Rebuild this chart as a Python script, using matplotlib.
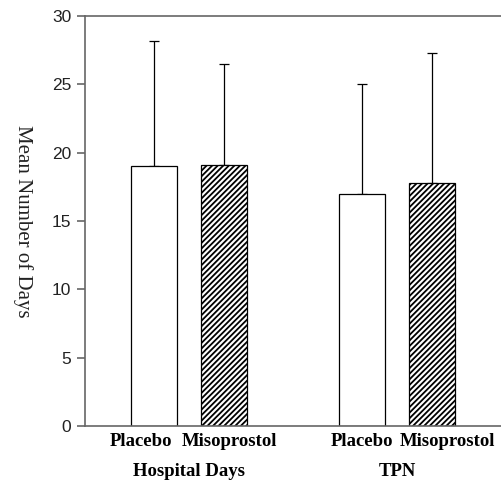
import matplotlib
matplotlib.use("Agg")
import matplotlib.pyplot as plt
import matplotlib.transforms as mtransforms

# bar order: Placebo, Misoprostol (Hospital Days), Placebo, Misoprostol (TPN)
positions = [0, 1, 3, 4]
means = [19.0, 19.1, 17.0, 17.8]
sd_upper = [9.2, 7.4, 8.0, 9.5]
bar_labels = ["Placebo", "Misoprostol", "Placebo", "Misoprostol"]
hatches = ["", "//////", "", "//////"]
groups = ["Hospital Days", "TPN"]
group_centers = [0.5, 3.5]

plt.rcParams["hatch.linewidth"] = 1.3

fig = plt.figure(figsize=(5.01, 4.82), dpi=100)
ax = fig.add_axes([85 / 501, 56 / 482, 416 / 501, 410 / 482])

for x, m, e, h in zip(positions, means, sd_upper, hatches):
    ax.bar(x, m, width=0.66, color="white", edgecolor="black",
           linewidth=0.9, hatch=h, zorder=2)
    ax.errorbar(x, m, yerr=[[0], [e]], fmt="none", ecolor="black",
                elinewidth=0.9, capsize=3.5, capthick=0.9, zorder=1)

ax.set_xlim(-1, 5)
ax.set_ylim(0, 30)
ax.set_yticks([0, 5, 10, 15, 20, 25, 30])
ax.set_xticks([])
ax.tick_params(axis="y", length=6, width=1.2, color="#666666", pad=4,
               labelsize=12.5, labelcolor="#222222")
for lab in ax.get_yticklabels():
    lab.set_family("Liberation Sans")

ax.spines["right"].set_visible(False)
for s in ["left", "top", "bottom"]:
    ax.spines[s].set_color("#666666")
    ax.spines[s].set_linewidth(1.2)

ax.set_ylabel("Mean Number of Days", family="Liberation Serif", fontsize=15,
              rotation=270, va="center", color="#222222")
ax.yaxis.set_label_coords(-0.15, 0.5)

# bar labels, nudged apart horizontally as in the original layout
trans = mtransforms.blended_transform_factory(ax.transData, fig.transFigure)
nudges = [-13, 6, 0, 16]
for x, lab, dx in zip(positions, bar_labels, nudges):
    t = trans + mtransforms.ScaledTranslation(dx / 100, 0, fig.dpi_scale_trans)
    ax.text(x, 40 / 482, lab, transform=t, ha="center", va="center",
            family="Liberation Serif", fontweight="bold", fontsize=13.5)

for gx, g in zip(group_centers, groups):
    ax.text(gx, 10 / 482, g, transform=trans, ha="center", va="center",
            family="Liberation Serif", fontweight="bold", fontsize=13.5)

fig.savefig("out.png", dpi=100)
